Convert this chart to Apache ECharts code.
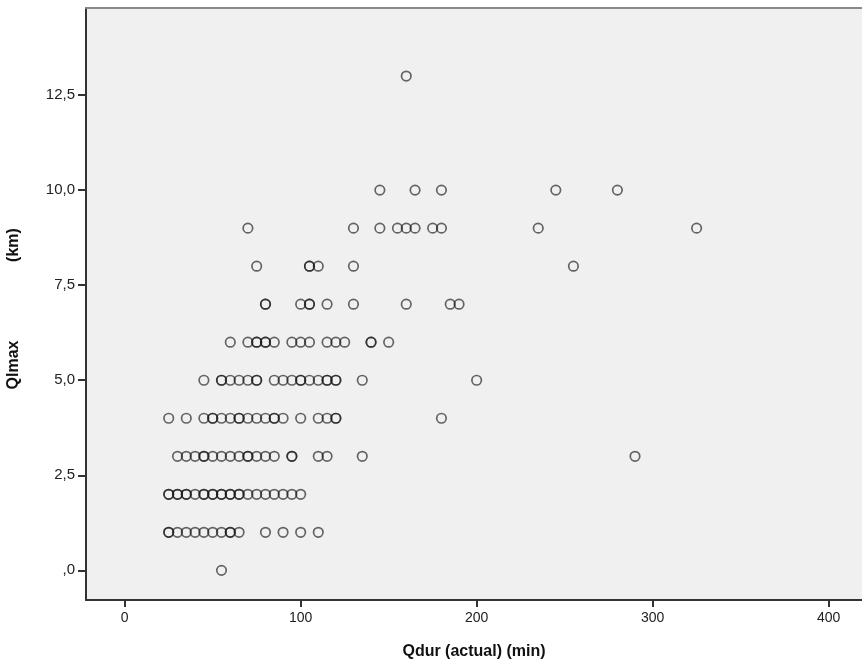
<!DOCTYPE html>
<html>
<head>
<meta charset="utf-8">
<script src="https://cdn.jsdelivr.net/npm/echarts@6/dist/echarts.min.js"></script>
<style>
html,body{margin:0;padding:0;background:#fff;}
#c{width:862px;height:668px;}
</style>
</head>
<body>
<div id="c"></div>
<script>
// Qdur (actual) (min) values for each Qlmax (km) level
var qlmaxLevels = [0, 1, 2, 3, 4, 5, 6, 7, 8, 9, 10, 13];
var qdur_0  = [55];
var qdur_1  = [25,25,30,35,40,45,50,55,60,60,65,80,90,100,110];
var qdur_2  = [25,25,30,30,35,35,40,45,45,50,50,55,55,60,60,65,65,70,75,80,85,90,95,100];
var qdur_3  = [30,35,40,45,45,50,55,60,65,70,70,75,80,85,95,95,110,115,135,290];
var qdur_4  = [25,35,45,50,50,55,60,65,65,70,75,80,85,85,90,100,110,115,120,120,180];
var qdur_5  = [45,55,55,60,65,70,75,75,85,90,95,100,100,105,110,115,115,120,120,135,200];
var qdur_6  = [60,70,75,75,80,80,85,95,100,105,115,120,125,140,140,150];
var qdur_7  = [80,80,100,105,105,115,130,160,185,190];
var qdur_8  = [75,105,105,110,130,255];
var qdur_9  = [70,130,145,155,160,165,175,180,235,325];
var qdur_10 = [145,165,180,245,280];
var qdur_13 = [160];
var qdurByLevel = [qdur_0,qdur_1,qdur_2,qdur_3,qdur_4,qdur_5,qdur_6,qdur_7,qdur_8,qdur_9,qdur_10,qdur_13];

var xTicks = [0, 100, 200, 300, 400];
var yTicks = [0, 2.5, 5, 7.5, 10, 12.5];

var points = [];
qlmaxLevels.forEach(function(lv, i){
  qdurByLevel[i].forEach(function(d){ points.push([d, lv]); });
});

var chart = echarts.init(document.getElementById('c'), null, {renderer:'canvas'});
var font = 'Liberation Sans, Arial, sans-serif';
chart.setOption({
  animation: false,
  backgroundColor: '#ffffff',
  grid: {
    left: 86, top: 8, right: 0, bottom: 68,
    show: true, backgroundColor: '#f0f0f0', borderWidth: 0
  },
  xAxis: [{
    type: 'value', min: -22, max: 419,
    name: 'Qdur (actual) (min)', nameLocation: 'middle', nameGap: 44,
    nameTextStyle: {fontFamily: font, fontSize: 16, fontWeight: 'bold', color: '#111'},
    axisLine: {show: true, onZero: false, lineStyle: {color: '#333', width: 2}},
    axisTick: {show: true, length: 7, lineStyle: {color: '#333', width: 2}, customValues: xTicks},
    axisLabel: {fontFamily: font, fontSize: 14, color: '#222', margin: 11, customValues: xTicks,
      formatter: function(v){ return String(v); }},
    splitLine: {show: false}
  }, {
    type: 'value', min: -22, max: 419, position: 'top',
    axisLine: {show: true, onZero: false, lineStyle: {color: '#8a8a8a', width: 2}},
    axisTick: {show: false}, axisLabel: {show: false}, splitLine: {show: false}
  }],
  yAxis: {
    type: 'value', min: -0.78, max: 14.79,
    axisLine: {show: true, onZero: false, lineStyle: {color: '#333', width: 2}},
    axisTick: {show: true, length: 8, lineStyle: {color: '#333', width: 2}, customValues: yTicks},
    axisLabel: {fontFamily: font, fontSize: 15, color: '#222', margin: 11, customValues: yTicks,
      formatter: function(v){ return v === 0 ? ',0' : v.toFixed(1).replace('.', ','); }},
    splitLine: {show: false}
  },
  graphic: [
    {type: 'text', x: 14, y: 365, rotation: Math.PI/2,
      style: {text: 'Qlmax', font: 'bold 16px ' + font, fill: '#111', textAlign: 'center', textVerticalAlign: 'middle'}},
    {type: 'text', x: 14, y: 245, rotation: Math.PI/2,
      style: {text: '(km)', font: 'bold 16px ' + font, fill: '#111', textAlign: 'center', textVerticalAlign: 'middle'}}
  ],
  series: [{
    type: 'scatter',
    xAxisIndex: 0,
    data: points,
    symbol: 'circle',
    symbolSize: 9.5,
    itemStyle: {color: 'rgba(0,0,0,0)', borderColor: 'rgba(25,25,25,0.82)', borderWidth: 1.7}
  }]
});
</script>
</body>
</html>
